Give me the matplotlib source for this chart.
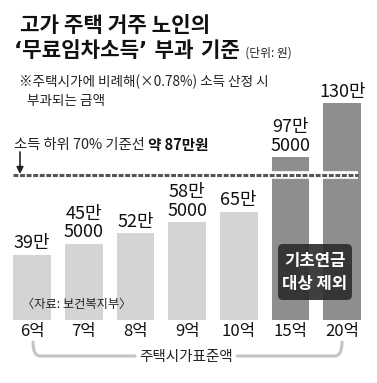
import matplotlib.pyplot as plt
from matplotlib.patches import FancyBboxPatch
from matplotlib.path import Path
from matplotlib.patches import PathPatch
import numpy as np

plt.rcParams['font.family'] = ['Noto Sans CJK KR', 'DejaVu Sans']
NUM_FONT = ['Liberation Sans Narrow', 'Noto Sans CJK KR', 'DejaVu Sans']
QUOTE_FONT = ['DejaVu Sans', 'Noto Sans CJK KR']

# data (unit: 만원)
prices = ['6억', '7억', '8억', '9억', '10억', '15억', '20억']
income = [39, 45.5, 52, 58.5, 65, 97.5, 130]
value_labels = ['39만', '45만\n5000', '52만', '58만\n5000', '65만', '97만\n5000', '130만']
excluded = [False, False, False, False, False, True, True]
threshold = 87

W, H = 377, 383
fig = plt.figure(figsize=(W / 100, H / 100), dpi=100)

# bar axes: whole figure, scaled so bars sit where they do in the print
ax = fig.add_axes([0, 0, 1, 1])
px_step = 51.7
px_unit = 1.667
ax.set_xlim(-32 / px_step, (W - 32) / px_step)
ax.set_ylim(-63 / px_unit, (H - 63) / px_unit)
ax.axis('off')

x = np.arange(len(prices))
colors = ['#8e8e8e' if e else '#d4d4d4' for e in excluded]
ax.bar(x, income, width=0.73, color=colors, zorder=1)

# threshold line with white gap through the tall bars
ax.plot([-0.37, 6.31], [threshold, threshold], color='white', lw=5.5,
        solid_capstyle='butt', zorder=2)
ax.plot([-0.37, 6.31], [threshold, threshold], color='#555555', lw=2.2,
        linestyle=(0, (1.6, 0.55)), dash_capstyle='butt', zorder=3)

for xi, v, lab in zip(x, income, value_labels):
    ax.annotate(lab, xy=(xi, v), xytext=(0, 2), textcoords='offset points',
                ha='center', va='bottom', fontsize=13, family=NUM_FONT,
                linespacing=1.05, color='#111111')

for xi, lab in zip(x, prices):
    ax.annotate(lab, xy=(xi, 0), xytext=(0, -8), textcoords='offset points',
                ha='center', va='center', fontsize=12, family=NUM_FONT,
                color='#111111')

# overlay axes in pixel units for text and decorations
ov = fig.add_axes([0, 0, 1, 1], facecolor='none')
ov.set_xlim(0, W)
ov.set_ylim(H, 0)
ov.axis('off')

ov.text(20, 25, '고가 주택 거주 노인의', fontsize=15.3, fontweight='bold',
        ha='left', va='center', color='#111111')
t2 = ov.text(14, 51, '‘무료임차소득’ 부과 기준', fontsize=15.3, fontweight='bold',
             family=QUOTE_FONT, ha='left', va='center', color='#111111')
ov.annotate('  (단위: 원)', xy=(1, 0.4), xycoords=t2, ha='left', va='center',
            fontsize=8.5, color='#222222')

ov.text(19, 82, '※주택시가에 비례해(×0.78%) 소득 산정 시', fontsize=9.8,
        ha='left', va='center', color='#222222')
ov.text(27, 101, '부과되는 금액', fontsize=9.8, ha='left', va='center',
        color='#222222')

t3 = ov.text(14, 145, '소득 하위 70% 기준선 ', fontsize=10.3, ha='left',
             va='center', color='#222222')
ov.annotate('약 87만원', xy=(1, 0.5), xycoords=t3, ha='left', va='center',
            fontsize=10.5, fontweight='bold', color='#111111')

ov.annotate('', xy=(20, 174), xytext=(20, 152),
            arrowprops=dict(arrowstyle='-|>', color='#222222', lw=1.2,
                            mutation_scale=10, shrinkA=0, shrinkB=0))

box = FancyBboxPatch((280, 246), 70, 52, boxstyle='round,pad=2,rounding_size=5',
                     facecolor='#2e2e2e', edgecolor='none', alpha=0.92, zorder=5)
ov.add_patch(box)
ov.text(315, 261, '기초연금', fontsize=12, fontweight='bold', color='white',
        ha='center', va='center', zorder=6)
ov.text(315, 284, '대상 제외', fontsize=12, fontweight='bold', color='white',
        ha='center', va='center', zorder=6)

ov.text(22, 304, '〈자료: 보건복지부〉', fontsize=8.8, ha='left', va='center',
        color='#222222')

# bracket under the x labels
br = '#c4c4c4'
left = Path([(33, 342), (33, 356), (40, 356), (135, 356)],
            [Path.MOVETO, Path.CURVE3, Path.CURVE3, Path.LINETO])
right = Path([(237, 356), (335, 356), (342, 356), (342, 342)],
             [Path.MOVETO, Path.LINETO, Path.CURVE3, Path.CURVE3])
for p in (left, right):
    ov.add_patch(PathPatch(p, facecolor='none', edgecolor=br, lw=2.2,
                           capstyle='round'))
ov.text(186, 357, '주택시가표준액', fontsize=10.5, ha='center', va='center',
        color='#222222')

fig.savefig('out.png', dpi=100)
